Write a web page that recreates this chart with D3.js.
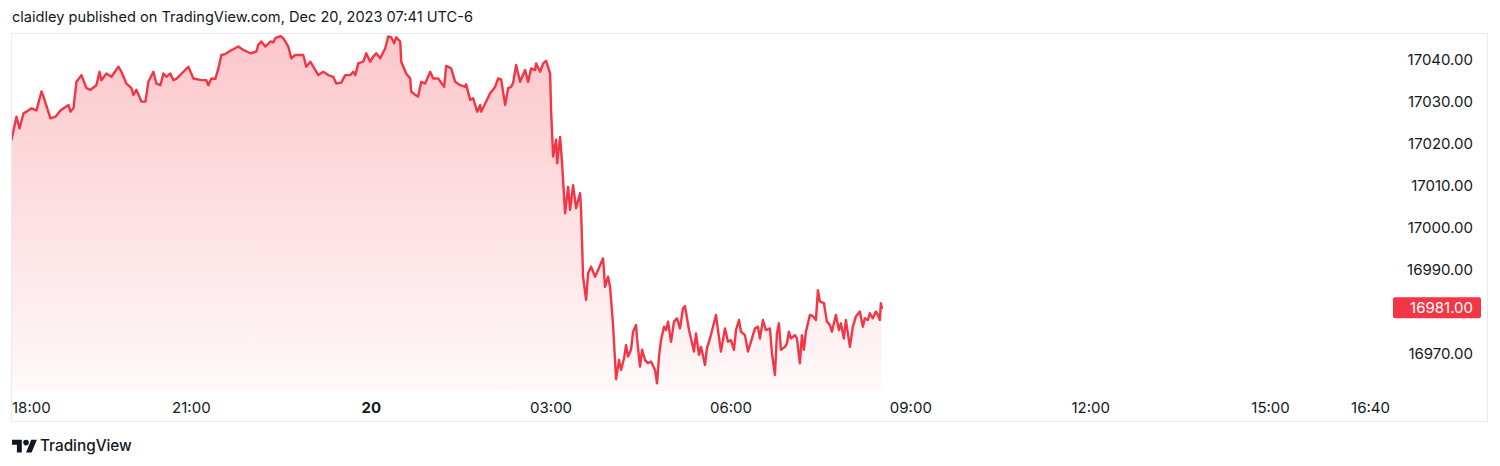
<!DOCTYPE html>
<html>
<head>
<meta charset="utf-8">
<script src="https://cdn.jsdelivr.net/npm/d3@7"></script>
<style>
  html, body { margin: 0; padding: 0; background: #ffffff; }
  svg { display: block; }
  text { font-family: Inter, "Noto Sans", Roboto, sans-serif; }
</style>
</head>
<body>
<svg id="chart" width="1500" height="466"></svg>
<script>
// ---- data (minutes since Dec 19 18:00, UTC-6) ----
const minutes = [0,5,8,12,15,20,25,30,32,39,44,49,57,59,62,65,70,75,79,85,88,90,95,100,107,110,115,120,122,125,130,134,137,142,145,149,152,155,159,162,165,172,177,182,190,195,197,200,204,207,210,214,219,
227,232,239,245,247,250,254,259,262,264,269,272,277,280,284,292,295,299,302,307,312,317,322,325,330,334,339,342,344,347,352,355,359,362,365,369,374,377,380,383,385,389,390,395,399,400,404,407,410,414,419,422,427,430,
433,435,440,444,449,454,455,459,462,466,469,470,475,479,484,487,490,494,497,500,502,505,509,514,517,520,524,525,529,532,535,539,540,542,545,546,549,551,554,557,559,562,565,569,570,572,575,577,580,584,587,592,594,597,599,602,605,
608,610,613,615,617,620,622,625,626,629,631,634,637,640,644,646,648,650,653,655,657,660,663,666,669,672,674,678,680,683,685,688,690,694,696,699,702,705,707,710,714,717,720,723,725,728,730,734,737,740,744,747,749,752,755,759,761,764,766,768,770,774,776,778,780,784,786,789,791,793,795,799,802,805,807,809,813,816,819,821,825,828,830,833,835,839,842,845,849,852,854,857,859,862,865,867,869,870,871];
const prices = [17021.0,17026.5,17023.7,17027.3,17027.7,17028.5,17028.0,17032.5,17031.3,17026.1,17026.5,17028.0,17029.3,17027.7,17028.5,17034.8,17036.4,17033.3,17032.9,17034.0,17037.2,17035.2,17036.8,17036.0,17038.4,17037.2,17034.4,17033.3,17031.7,17032.9,17030.1,17030.1,17034.8,17037.2,17034.4,17034.0,17036.8,17036.0,17036.8,17035.2,17035.5,17037.2,17038.4,17035.6,17035.2,17035.2,17034.0,17035.6,17035.5,17038.0,17041.2,17041.4,17042.2,
17043.2,17042.4,17041.6,17042.0,17043.6,17044.4,17043.2,17044.4,17044.2,17045.2,17045.7,17045.2,17043.2,17040.4,17041.2,17041.2,17038.4,17039.6,17038.4,17036.4,17037.2,17036.4,17036.0,17034.4,17034.6,17036.4,17036.4,17037.2,17036.4,17039.2,17039.6,17041.6,17039.6,17040.8,17041.6,17040.4,17042.8,17045.6,17045.4,17044.0,17045.4,17044.4,17039.6,17036.8,17035.6,17032.5,17031.7,17031.3,17034.8,17034.4,17037.2,17035.6,17035.6,17034.6,
17033.6,17038.6,17038.0,17034.8,17034.0,17033.6,17034.2,17030.5,17030.9,17027.7,17029.3,17027.7,17030.1,17032.1,17033.6,17035.6,17035.4,17029.3,17033.3,17033.6,17034.6,17038.8,17034.8,17037.6,17034.8,17038.0,17037.6,17039.2,17037.2,17039.2,17039.8,17036.8,17028.0,17017.0,17021.0,17015.4,17021.7,17015.4,17003.5,17009.8,17004.3,17010.2,17004.7,17008.3,17004.3,16988.4,16982.9,16989.2,16990.8,16988.4,16990.0,16992.8,16986.0,16988.4,16986.0,16977.0,16964.0,
16968.6,16966.2,16969.0,16972.1,16969.4,16971.0,16975.3,16976.9,16973.7,16967.0,16971.0,16968.6,16967.8,16968.2,16966.2,16963.0,16969.4,16973.3,16976.5,16975.7,16977.7,16972.9,16977.7,16978.5,16976.1,16980.9,16981.4,16975.7,16973.7,16970.6,16974.9,16969.8,16971.7,16967.4,16971.4,16973.7,16976.5,16979.3,16975.7,16970.6,16976.1,16972.9,16973.3,16971.0,16975.7,16978.1,16975.3,16974.5,16970.6,16972.9,16976.1,16976.5,16973.7,16978.1,16975.7,16976.1,16970.2,16965.0,16974.9,16977.3,16971.0,16971.7,16972.5,16975.3,16973.7,16974.5,16973.7,16967.8,16974.5,16971.0,16975.3,16979.3,16979.0,16978.1,16985.2,16982.5,16982.1,16977.7,16976.9,16975.3,16979.3,16975.7,16977.3,16973.7,16978.1,16971.7,16976.5,16978.9,16980.1,16976.5,16978.5,16978.1,16979.7,16978.5,16980.1,16979.3,16978.1,16982.1,16981.0];

const priceTicks = [16970, 16990, 17000, 17010, 17020, 17030, 17040];
const timeTickMinutes = [0, 180, 360, 540, 720, 900, 1080, 1260, 1360];
const timeTickLabels = ["18:00", "21:00", "20", "03:00", "06:00", "09:00", "12:00", "15:00", "16:40"];
const lastPrice = 16981.00;
const headerText = "claidley published on TradingView.com, Dec 20, 2023 07:41 UTC-6";

// ---- layout ----
const svg = d3.select("#chart");
const frame = { left: 11, top: 33, right: 1488, bottom: 422 };
const pane = { left: 11, top: 33, right: 1390, bottom: 391 };
const lineColor = "#F23645";

const x = d3.scaleLinear().domain([0, 1360]).range([11.5, 1370.5]);
const y = d3.scaleLinear().domain([16970, 17040]).range([354, 60]);

const data = minutes.map((m, i) => ({ m, v: prices[i] }));

// header
svg.append("text").attr("x", 12).attr("y", 22)
  .attr("font-size", 14.6).attr("fill", "#131722").text(headerText);

// frame
svg.append("rect")
  .attr("x", frame.left + 0.5).attr("y", frame.top + 0.5)
  .attr("width", frame.right - frame.left - 1).attr("height", frame.bottom - frame.top - 1)
  .attr("fill", "#ffffff").attr("stroke", "#e9ebf0").attr("stroke-width", 1);

// gradient
const defs = svg.append("defs");
const grad = defs.append("linearGradient").attr("id", "areaGrad")
  .attr("gradientUnits", "userSpaceOnUse")
  .attr("x1", 0).attr("x2", 0).attr("y1", y(d3.max(prices))).attr("y2", pane.bottom);
grad.append("stop").attr("offset", 0).attr("stop-color", lineColor).attr("stop-opacity", 0.28);
grad.append("stop").attr("offset", 1).attr("stop-color", lineColor).attr("stop-opacity", 0.03);

defs.append("clipPath").attr("id", "paneClip").append("rect")
  .attr("x", pane.left + 1).attr("y", pane.top + 1)
  .attr("width", pane.right - pane.left).attr("height", pane.bottom - pane.top);

const g = svg.append("g").attr("clip-path", "url(#paneClip)");

g.append("path").datum(data)
  .attr("fill", "url(#areaGrad)")
  .attr("d", d3.area().x(d => x(d.m)).y0(pane.bottom).y1(d => y(d.v)));

g.append("path").datum(data)
  .attr("fill", "none").attr("stroke", lineColor).attr("stroke-width", 2.4)
  .attr("stroke-linejoin", "round").attr("stroke-linecap", "round")
  .attr("d", d3.line().x(d => x(d.m)).y(d => y(d.v)));

// price axis
const pa = svg.append("g").attr("class", "price-axis");
pa.selectAll("text").data(priceTicks).join("text")
  .attr("x", 1473).attr("y", d => y(d)).attr("dy", "0.35em")
  .attr("text-anchor", "end").attr("font-size", 15).attr("fill", "#131722")
  .text(d => d.toFixed(2));

// last price label
const ly = y(lastPrice);
pa.append("rect").attr("x", 1393).attr("y", ly - 10.5).attr("width", 88).attr("height", 21)
  .attr("rx", 2).attr("fill", lineColor);
pa.append("text").attr("x", 1473).attr("y", ly).attr("dy", "0.35em")
  .attr("text-anchor", "end").attr("font-size", 15).attr("fill", "#ffffff")
  .text(lastPrice.toFixed(2));

// time axis
const ta = svg.append("g").attr("class", "time-axis");
ta.selectAll("text").data(timeTickMinutes).join("text")
  .attr("x", d => x(d)).attr("y", 413)
  .attr("text-anchor", "middle").attr("font-size", 15).attr("fill", "#131722")
  .attr("font-weight", (d, i) => timeTickLabels[i] === "20" ? 700 : 400)
  .text((d, i) => timeTickLabels[i])
  .each(function() {
    const bb = this.getBBox();
    if (bb.x < frame.left + 1) d3.select(this).attr("text-anchor", "start").attr("x", frame.left + 1);
  });

// footer logo
const logo = svg.append("g").attr("transform", "translate(12,437) scale(0.7)").attr("fill", "#131722");
logo.append("path").attr("d", "M14 22H7V11H0V4h14v18z");
logo.append("circle").attr("cx", 20).attr("cy", 8).attr("r", 4);
logo.append("path").attr("d", "M28 22h-8l7.5-18h8L28 22z");
svg.append("text").attr("x", 40).attr("y", 450.5)
  .attr("font-size", 15.3).attr("font-weight", 500).attr("fill", "#131722").text("TradingView");
</script>
</body>
</html>
